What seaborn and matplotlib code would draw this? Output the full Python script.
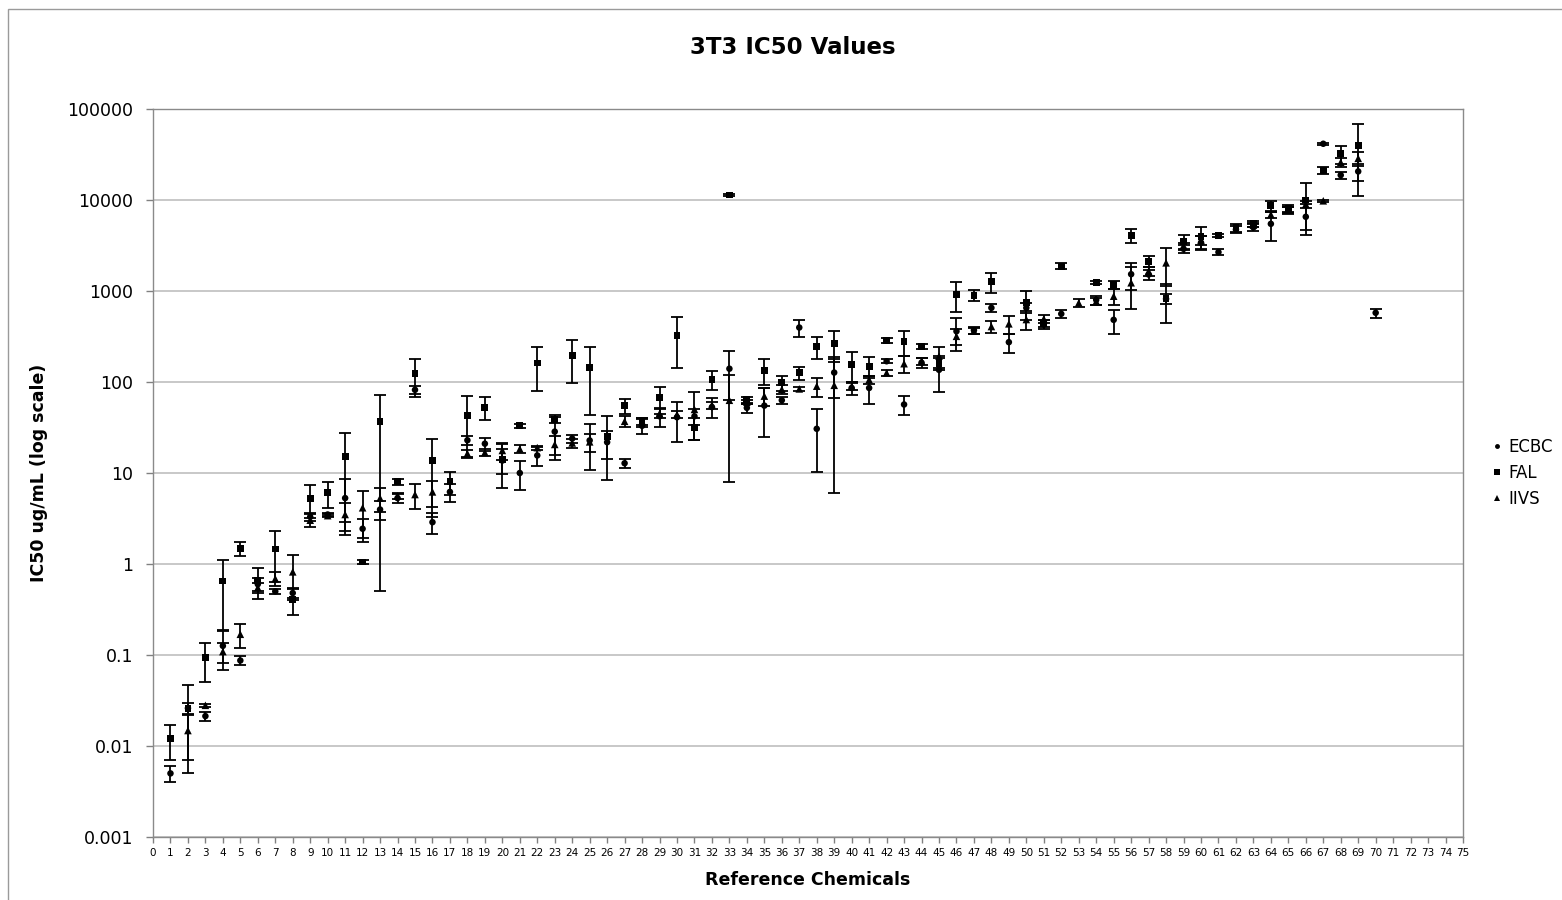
import numpy as np
import pandas as pd
import seaborn as sns
import matplotlib.pyplot as plt
from matplotlib.patches import Rectangle
from matplotlib.ticker import FixedLocator, NullLocator

nan = np.nan

# Reference chemical numbers (x positions)
chemicals = list(range(1, 71))

# ECBC laboratory: mean IC50 (ug/mL) and standard deviation
ecbc_mean = [0.005, 0.026, 0.0213, 0.126, 0.087, 0.60, 0.50, 0.48, 3.3, 3.5,
             5.3, 2.44, 3.97, 5.3, 82, 2.88, 6.2, 22.9, 21, 13.7,
             10.0, 15.6, 28.5, 23.9, 22.8, 21.8, 12.8, 33, 42, 41,
             42, 53, 140, 52, 55, 63, 397, 30.6, 127, 86,
             86, 169, 56.6, 163, 136, 361, 371, 653, 274, 653,
             428, 561, nan, 800, 482, 1530, 1518, 820, 2906, 3400,
             2672, 4740, 5000, 5470, 7700, 6540, 41500, 18750, 20600, 576]
ecbc_sd = [0.001, 0.004, 0.0025, 0.058, 0.0095, 0.10, 0.03, 0.06, 0.3, 0.15,
           3.2, 0.7, 0.9, 0.6, 8, 0.72, 1.4, 2.7, 3.4, 6.9,
           3.5, 3.7, 14.7, 2.5, 12, 7.5, 1.5, 6, 10, 19,
           8, 13, 77, 6, 30, 6, 82, 20.3, 60, 14,
           29, 8, 13, 20, 59, 140, 35, 60, 65, 80,
           50, 60, nan, 90, 143, 500, 200, 100, 280, 600,
           200, 400, 400, 1900, 600, 2400, 800, 1800, 4500, 65]

# FAL laboratory
fal_mean = [0.012, 0.026, 0.093, 0.65, 1.48, 0.66, 1.46, 0.407, 5.28, 6.1,
            15.3, 1.05, 36.5, 8.0, 125, 13.6, 8.0, 42.8, 52.8, 14,
            33, 162, 38.7, 195, 143, 25.4, 55, 36, 67, 327,
            31.4, 106, 11350, 64, 135, 98, 126, 244, 265, 155,
            149, 288, 277, 245, 160, 916, 900, 1262, nan, 741,
            440, 1874, nan, 1239, 1169, 4100, 2126, 827, 3525, 4000,
            4100, 5000, 5500, 8630, 8000, 10000, 21100, 32200, 40000, nan]
fal_sd = [0.005, 0.021, 0.042, 0.46, 0.27, 0.25, 0.83, 0.13, 2.1, 1.95,
          12.4, 0.05, 36, 0.6, 56, 10.3, 2.2, 27.7, 15, 4.3,
          1.5, 82, 3, 97, 100, 17, 10, 4, 22, 185,
          8.5, 25, 400, 5, 43, 18, 20, 65, 100, 56,
          39, 18, 86, 15, 25, 330, 130, 300, nan, 260,
          40, 150, nan, 60, 130, 730, 280, 380, 600, 1100,
          150, 500, 450, 1100, 800, 5300, 2000, 7500, 29000, nan]

# IIVS laboratory
iivs_mean = [nan, 0.0148, 0.028, 0.109, 0.169, 0.55, 0.69, 0.82, 3.03, 3.4,
             3.5, 4.15, 5.3, 5.6, 5.8, 6.2, nan, 16.4, 16.8, 17.7,
             18.4, 19, 20.6, 21.4, 22, nan, 37, 37, 45, 44,
             50, 56, 63, 60, 70, 83, 84, 90, 92, 90,
             106, 126, 159, 170, 192, 318, 365, 407, 436, 486,
             495, nan, 741, 770, 877, 1232, 1650, 2040, 3100, 3600,
             nan, nan, 5300, 6920, 7900, 9000, 9800, 26000, 28700, nan]
iivs_sd = [nan, 0.0078, 0.001, 0.027, 0.05, 0.07, 0.12, 0.42, 0.5, 0.1,
           1.2, 2.2, 1.6, 0.4, 1.8, 2.0, nan, 1.6, 1.5, 3.7,
           1.7, 1, 5, 2.5, 5, nan, 5, 3, 5, 4,
           27, 5, 55, 3, 15, 10, 5, 22, 86, 8,
           10, 10, 33, 15, 48, 65, 30, 60, 100, 115,
           50, nan, 70, 60, 170, 590, 200, 900, 300, 400,
           nan, nan, 300, 500, 500, 800, 200, 3000, 5000, nan]

labs = ["ECBC", "FAL", "IIVS"]
x_ticks = list(range(0, 76))
y_ticks = [0.001, 0.01, 0.1, 1, 10, 100, 1000, 10000, 100000]
y_tick_labels = ["0.001", "0.01", "0.1", "1", "10", "100", "1000", "10000", "100000"]

frames = []
for lab, m, s in zip(labs, [ecbc_mean, fal_mean, iivs_mean], [ecbc_sd, fal_sd, iivs_sd]):
    frames.append(pd.DataFrame({"chem": chemicals, "ic50": m, "sd": s, "lab": lab}))
df = pd.concat(frames, ignore_index=True).dropna()

sns.set_theme(style="white")
plt.rcParams["font.family"] = ["DejaVu Sans"]
plt.rcParams["text.color"] = "black"
plt.rcParams["axes.labelcolor"] = "black"
plt.rcParams["xtick.color"] = "black"
plt.rcParams["ytick.color"] = "black"

fig = plt.figure(figsize=(15.62, 9), dpi=100)
ax = fig.add_axes([153 / 1562, 63 / 900, 1310 / 1562, 728 / 900])

# chart-area frame
fig.add_artist(Rectangle((8 / 1562, -0.1), 2.0, 1.1 - 9 / 900, transform=fig.transFigure,
                         fill=False, edgecolor="#9a9a9a", linewidth=1.0))

for lab in labs:
    sub = df[df["lab"] == lab]
    ax.errorbar(sub["chem"], sub["ic50"], yerr=sub["sd"], fmt="none", ecolor="black",
                elinewidth=1.3, capsize=4.5, capthick=1.3, zorder=2)

sns.scatterplot(data=df, x="chem", y="ic50", style="lab", size="lab",
                markers={"ECBC": "o", "FAL": "s", "IIVS": "^"},
                sizes={"ECBC": 22, "FAL": 24, "IIVS": 30},
                color="black", edgecolor="black", linewidth=0, ax=ax, zorder=3)

ax.set_yscale("log")
ax.set_ylim(0.001, 100000)
ax.set_xlim(0, 75)
ax.yaxis.set_major_locator(FixedLocator(y_ticks))
ax.yaxis.set_minor_locator(NullLocator())
ax.set_yticklabels(y_tick_labels)
ax.set_xticks(x_ticks)
ax.set_xticklabels([str(t) for t in x_ticks])
ax.tick_params(axis="y", which="major", direction="out", length=5, width=1,
               color="#808080", labelcolor="black", labelsize=12.5, pad=9, left=True)
ax.tick_params(axis="x", which="major", direction="out", length=4, width=1,
               color="#808080", labelcolor="black", labelsize=7.5, pad=4, bottom=True)
ax.yaxis.grid(True, color="#c4c4c4", linewidth=1.3)
ax.xaxis.grid(False)
for sp in ax.spines.values():
    sp.set_visible(True)
    sp.set_color("#8a8a8a")
    sp.set_linewidth(1.0)

ax.set_xlabel("Reference Chemicals", fontsize=12.5, fontweight="bold", labelpad=9,
              color="black")
ax.set_ylabel("IC50 ug/mL (log scale)", fontsize=12.5, fontweight="bold", labelpad=14,
              color="black")
fig.text(793 / 1562, 1 - 47 / 900, "3T3 IC50 Values", ha="center", va="center",
         fontsize=16.5, fontweight="bold", color="black")

sns.move_legend(ax, "center left", bbox_to_anchor=(1.0206, 0.5), frameon=False, title=None,
                fontsize=12, handletextpad=0.3, labelspacing=0.5, markerscale=0.75,
                borderpad=0, borderaxespad=0, handlelength=0.8)
for t in ax.get_legend().get_texts():
    t.set_color("black")

fig.savefig("out.png", dpi=100)
